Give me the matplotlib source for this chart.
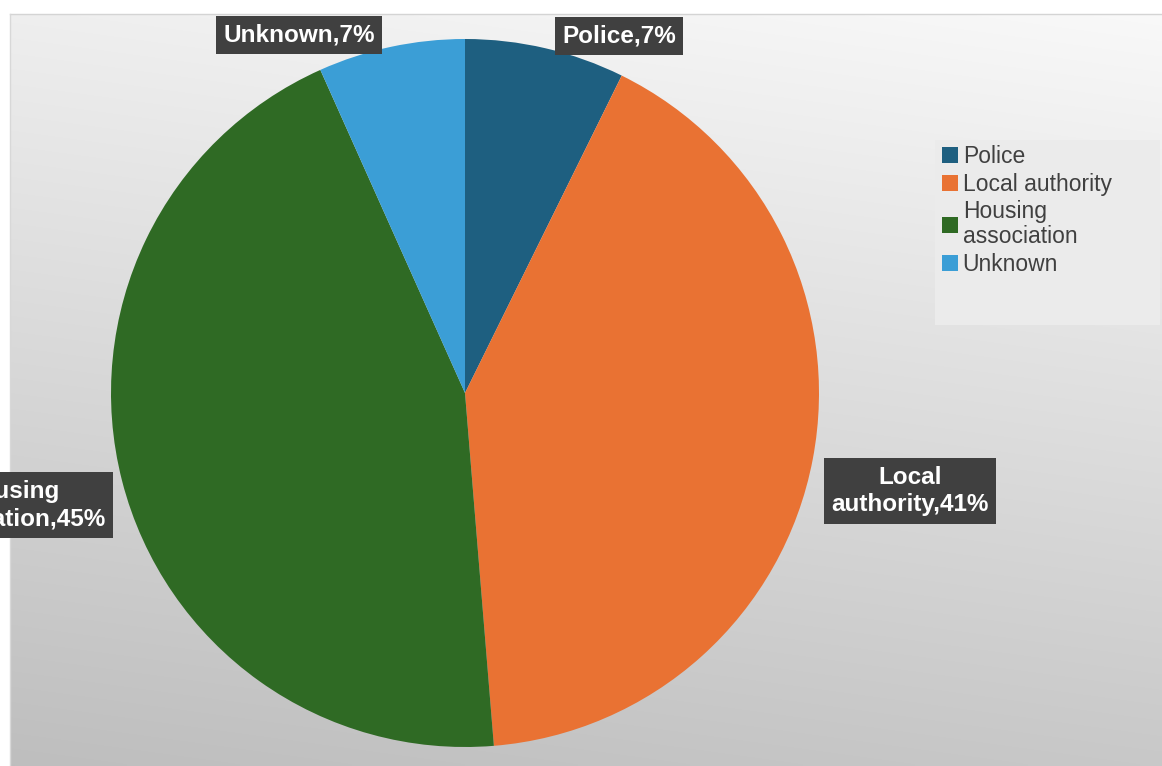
import numpy as np
import matplotlib.pyplot as plt
from matplotlib.patches import Rectangle

# Data
categories = ['Police', 'Local authority', 'Housing association', 'Unknown']
legend_labels = ['Police', 'Local authority', 'Housing\nassociation', 'Unknown']
box_labels = ['Police', 'Local\nauthority', 'Housing\nassociation', 'Unknown']
shares = [7.3, 41.4, 44.6, 6.7]
colors = ['#1e5f80', '#e97233', '#2f6a24', '#3b9ed6']

# label box centres (pixels from top-left)
label_pos = [(619, 36), (910, 491), (11, 505), (299, 35)]

W, H = 1162, 766
fig = plt.figure(figsize=(W / 100, H / 100), dpi=100)
fig.patch.set_facecolor('white')
ax = fig.add_axes([0, 0, 1, 1])
ax.axis('off')

# grey gradient background of the chart area
left, top = 10, 14
yy, xx = np.mgrid[0:1:200j, 0:1:300j]  # yy: 0 top -> 1 bottom
shade = 0.975 - 0.19 * yy - 0.04 * (1 - xx)
ax.imshow(np.dstack([shade] * 3), extent=(left, W, 0, H - top),
          origin='upper', aspect='auto', zorder=0, interpolation='bilinear')
ax.plot([left, W], [H - top, H - top], color='#d4d4d4', lw=1, zorder=1)
ax.plot([left, left], [0, H - top], color='#d8d8d8', lw=1, zorder=1)

cx, cy, r = 465, H - 393, 354
wedges, _ = ax.pie(shares, colors=colors, startangle=90, counterclock=False,
                   center=(cx, cy), radius=r, frame=True,
                   wedgeprops=dict(linewidth=0))
for w in wedges:
    w.set_zorder(2)

for name, val, (px, py) in zip(box_labels, shares, label_pos):
    ax.text(px, H - py, f'{name},{val:.0f}%', ha='center', va='center',
            color='white', fontsize=17.5, fontweight='bold',
            family='Liberation Sans', linespacing=1.25, zorder=4,
            bbox=dict(boxstyle='square,pad=0.3', fc='#404040', ec='none'))

# legend panel
ax.add_patch(Rectangle((935, H - 325), 225, 185, fc='#ebebeb', ec='none', zorder=1))
leg = ax.legend(wedges, legend_labels, loc='upper left',
                bbox_to_anchor=(926 / W, 1 - 129 / H), frameon=False,
                prop=dict(family='Liberation Sans', size=16.5),
                handlelength=0.7, handleheight=0.7, handletextpad=0.2,
                labelspacing=0.2, borderpad=0.2)
for t in leg.get_texts():
    t.set_color('#404040')
    t.set_linespacing(1.1)

ax.set_xlim(0, W)
ax.set_ylim(0, H)
fig.savefig('out.png', dpi=100)
